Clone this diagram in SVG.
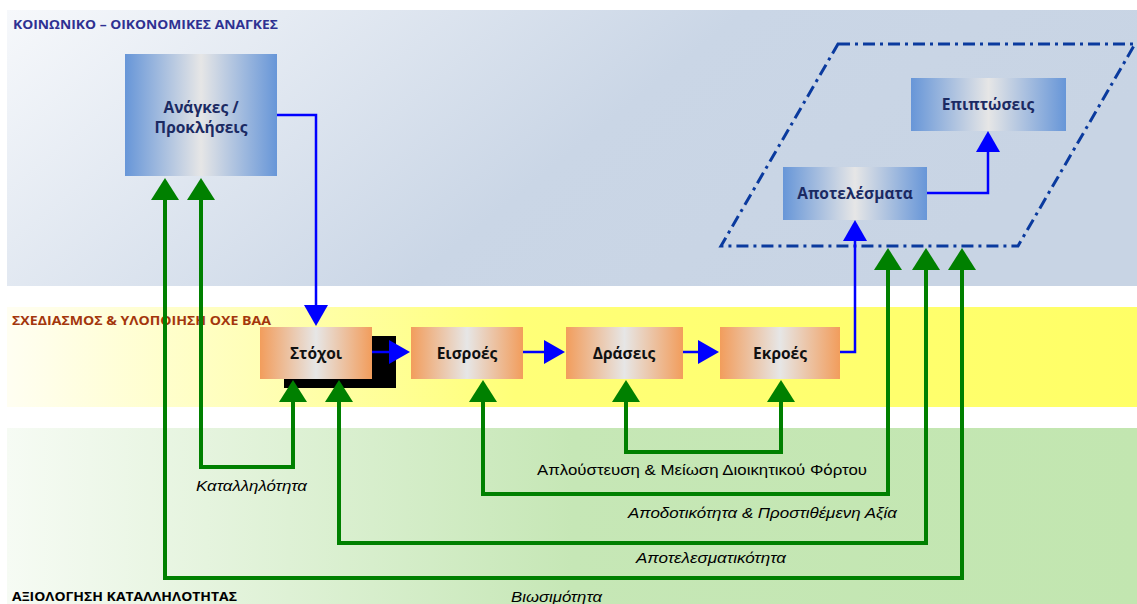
<svg xmlns="http://www.w3.org/2000/svg" width="1137" height="604" viewBox="0 0 1137 604">
<style>
.title{font-family:"Open Sans","Liberation Sans",sans-serif;font-weight:bold;font-size:13px}
.nb{font-family:"Open Sans","Liberation Sans",sans-serif;font-weight:bold;font-size:15.5px;fill:#1b2a63;text-anchor:middle}
.no{font-family:"Open Sans","Liberation Sans",sans-serif;font-weight:bold;font-size:15.5px;fill:#111;text-anchor:middle}
.lbl{font-family:"Liberation Sans",Arial,sans-serif;font-size:14.5px;fill:#000}
.it{font-style:italic}
.g{fill:none;stroke:#008000;stroke-width:4;marker-start:url(#ga);marker-end:url(#ga)}
.b{fill:none;stroke:#0000ff;stroke-width:2.5;marker-end:url(#ba)}
</style>
<defs>
<linearGradient id="bandTop" x1="0" y1="0" x2="1" y2="0.3">
<stop offset="0" stop-color="#f6f8fb"/><stop offset="0.6" stop-color="#cad6e6"/><stop offset="1" stop-color="#c8d4e4"/>
</linearGradient>
<linearGradient id="bandMid" x1="0" y1="0" x2="1" y2="0">
<stop offset="0" stop-color="#fffef2"/><stop offset="0.45" stop-color="#ffff78"/><stop offset="1" stop-color="#ffff66"/>
</linearGradient>
<linearGradient id="bandBot" x1="0" y1="0" x2="1" y2="0">
<stop offset="0" stop-color="#f6fbf4"/><stop offset="0.5" stop-color="#c6e7b6"/><stop offset="1" stop-color="#c2e6b0"/>
</linearGradient>
<linearGradient id="blueBox" x1="0" y1="0" x2="1" y2="0">
<stop offset="0" stop-color="#6796d8"/><stop offset="0.5" stop-color="#e6e6e6"/><stop offset="1" stop-color="#6796d8"/>
</linearGradient>
<linearGradient id="orBox" x1="0" y1="0" x2="1" y2="0">
<stop offset="0" stop-color="#f29d5c"/><stop offset="0.5" stop-color="#e6e6e6"/><stop offset="1" stop-color="#f29d5c"/>
</linearGradient>
<marker id="ga" markerUnits="userSpaceOnUse" viewBox="0 0 22 28" refX="1" refY="14" markerWidth="22" markerHeight="28" orient="auto-start-reverse">
<path d="M0,0 L22,14 L0,28 z" fill="#008000"/>
</marker>
<marker id="ba" markerUnits="userSpaceOnUse" viewBox="0 0 21 24" refX="1" refY="12" markerWidth="21" markerHeight="24" orient="auto">
<path d="M0,0 L21,12 L0,24 z" fill="#0000ff"/>
</marker>
</defs>

<g id="bands">
<rect x="7" y="10" width="1130" height="276" fill="url(#bandTop)"/>
<rect x="7" y="307" width="1130" height="100" fill="url(#bandMid)"/>
<rect x="7" y="428" width="1130" height="176" fill="url(#bandBot)"/>
<text class="title" x="13" y="29" fill="#2e3192" textLength="265" lengthAdjust="spacingAndGlyphs">ΚΟΙΝΩΝΙΚΟ – ΟΙΚΟΝΟΜΙΚΕΣ ΑΝΑΓΚΕΣ</text>
<text class="title" x="12" y="325" fill="#a3360c" textLength="259" lengthAdjust="spacingAndGlyphs">ΣΧΕΔΙΑΣΜΟΣ &amp; ΥΛΟΠΟΙΗΣΗ ΟΧΕ ΒΑΑ</text>
<text class="title" x="12" y="601" fill="#000" textLength="225" lengthAdjust="spacingAndGlyphs">ΑΞΙΟΛΟΓΗΣΗ ΚΑΤΑΛΛΗΛΟΤΗΤΑΣ</text>
</g>

<g id="frame">
<polygon points="838,44 1135,44 1018,246 721,246" fill="none" stroke="#0a3a9e" stroke-width="3" stroke-dasharray="12,5,3,5"/>
</g>

<g id="node-anagkes">
<rect x="125" y="54" width="152" height="122" fill="url(#blueBox)"/>
<text class="nb" x="201" y="113">Ανάγκες /</text>
<text class="nb" x="201" y="133">Προκλήσεις</text>
</g>
<g id="node-apotelesmata">
<rect x="783" y="167" width="144" height="53" fill="url(#blueBox)"/>
<text class="nb" x="855" y="199">Αποτελέσματα</text>
</g>
<g id="node-epiptoseis">
<rect x="911" y="78" width="155" height="53" fill="url(#blueBox)"/>
<text class="nb" x="988" y="110">Επιπτώσεις</text>
</g>
<g id="node-stoxoi">
<rect x="284" y="336" width="112" height="52" fill="#000"/>
<rect x="260" y="327" width="112" height="52" fill="url(#orBox)"/>
<text class="no" x="316" y="359">Στόχοι</text>
</g>
<g id="node-eisroes">
<rect x="411" y="327" width="112" height="52" fill="url(#orBox)"/>
<text class="no" x="467" y="359">Εισροές</text>
</g>
<g id="node-draseis">
<rect x="566" y="327" width="117" height="52" fill="url(#orBox)"/>
<text class="no" x="624" y="359">Δράσεις</text>
</g>
<g id="node-ekroes">
<rect x="720" y="327" width="120" height="52" fill="url(#orBox)"/>
<text class="no" x="780" y="359">Εκροές</text>
</g>

<g id="connectors">
<path class="b" d="M277,115 H316 V306"/>
<path class="b" d="M372,352 H390"/>
<path class="b" d="M523,352 H545"/>
<path class="b" d="M683,352 H699"/>
<path class="b" d="M840,352 H855 V240"/>
<path class="b" d="M927,193 H988 V151"/>

<path class="g" d="M201,199 V467 H293 V401"/>
<path class="g" d="M165,199 V578 H962 V269"/>
<path class="g" d="M339,401 V543 H926 V269"/>
<path class="g" d="M483,401 V494 H888 V269"/>
<path class="g" d="M626,401 V452 H781 V401"/>

<text class="lbl it" x="196" y="491" textLength="111" lengthAdjust="spacingAndGlyphs">Καταλληλότητα</text>
<text class="lbl" x="537" y="475" textLength="330" lengthAdjust="spacingAndGlyphs">Απλούστευση &amp; Μείωση Διοικητικού Φόρτου</text>
<text class="lbl it" x="628" y="518" textLength="269" lengthAdjust="spacingAndGlyphs">Αποδοτικότητα &amp; Προστιθέμενη Αξία</text>
<text class="lbl it" x="636" y="563" textLength="150" lengthAdjust="spacingAndGlyphs">Αποτελεσματικότητα</text>
<text class="lbl it" x="511" y="602" textLength="91" lengthAdjust="spacingAndGlyphs">Βιωσιμότητα</text>
</g>
</svg>
